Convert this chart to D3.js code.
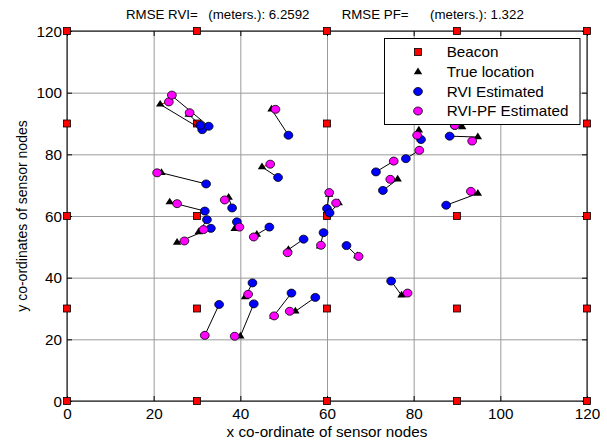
<!DOCTYPE html>
<html>
<head>
<meta charset="utf-8">
<script src="https://cdnjs.cloudflare.com/ajax/libs/d3/7.8.5/d3.min.js"></script>
<style>
  body { margin: 0; background: #fff; }
  text { font-family: "Liberation Sans", Arial, Helvetica, sans-serif; }
</style>
</head>
<body>
<script>
// ticks
const xTicks = [0, 20, 40, 60, 80, 100, 120];
const yTicks = [0, 20, 40, 60, 80, 100, 120];

// beacons sit on a 30 m grid
const beaconX = [0, 30, 60, 90, 120];
const beaconY = [0, 30, 60, 90, 120];

// true node positions
const trueX = [21.5, 24.2, 28.1, 47.2, 45.0, 21.8, 23.7, 37.3, 30.4, 25.4, 38.7, 43.8, 51.1, 58.4, 41.1,
               31.8, 40.0, 47.6, 52.7, 60.5, 62.7, 67.0, 75.4, 76.3, 81.3, 81.2, 91.2, 94.8, 94.8, 77.2];
const trueY = [96.2, 99.0, 92.9, 94.6, 75.9, 74.0, 64.5, 66.0, 54.8, 51.4, 55.9, 54.0, 49.1, 50.2, 33.7,
               21.3, 21.0, 27.4, 29.1, 67.0, 64.2, 47.0, 77.8, 71.9, 81.3, 87.8, 88.9, 85.6, 67.3, 34.3];

// RVI estimates
const rviX = [31.2, 32.7, 30.8, 51.1, 48.7, 32.1, 31.8, 38.1, 32.3, 33.2, 39.2, 46.7, 54.6, 59.2, 42.8,
              35.1, 43.1, 51.8, 57.3, 60.0, 60.6, 64.5, 71.3, 72.9, 78.2, 81.7, 89.5, 88.3, 87.5, 74.8];
const rviY = [88.0, 89.1, 89.4, 86.2, 72.5, 70.4, 61.6, 62.6, 58.8, 56.0, 58.1, 56.4, 52.5, 54.6, 38.3,
              31.3, 31.5, 35.0, 33.6, 62.4, 61.0, 50.4, 74.3, 68.3, 78.6, 84.8, 89.4, 85.9, 63.5, 38.9];

// RVI-PF estimates
const pfX = [23.5, 24.2, 28.3, 48.1, 46.9, 20.8, 25.4, 36.4, 31.5, 27.1, 39.8, 43.1, 50.9, 58.6, 41.8,
             31.8, 38.7, 47.8, 51.4, 60.5, 62.1, 67.3, 75.4, 74.6, 81.3, 80.8, 89.5, 93.5, 93.2, 78.6];
const pfY = [97.0, 99.2, 93.5, 94.6, 76.8, 74.0, 64.0, 65.2, 55.6, 51.9, 56.4, 53.2, 48.1, 50.5, 34.6,
             21.3, 21.0, 27.6, 29.1, 67.6, 64.2, 46.9, 77.8, 71.9, 81.3, 86.2, 89.4, 84.3, 68.0, 35.0];

const legendNames = ['Beacon', 'True location', 'RVI Estimated', 'RVI-PF Estimated'];
const rmseRVI = 6.2592;
const rmsePF = 1.322;

const width = 607;
const height = 444;
const plotLeft = 67, plotRight = 587, plotTop = 31, plotBottom = 401;
const SX = 1.09; // the picture is a bit wider than tall

const svg = d3.select('body').append('svg')
  .attr('width', width)
  .attr('height', height);

const x = d3.scaleLinear().domain([0, 120]).range([plotLeft, plotRight]);
const y = d3.scaleLinear().domain([0, 120]).range([plotBottom, plotTop]);

// grid
const grid = svg.append('g').attr('class', 'grid');
grid.append('g')
  .attr('transform', `translate(0,${plotBottom})`)
  .call(d3.axisBottom(x).tickValues(xTicks).tickSize(-(plotBottom - plotTop)).tickFormat(''));
grid.append('g')
  .attr('transform', `translate(${plotLeft},0)`)
  .call(d3.axisLeft(y).tickValues(yTicks).tickSize(-(plotRight - plotLeft)).tickFormat(''));
grid.selectAll('.domain').remove();
grid.selectAll('line').attr('stroke', '#9a9a9a').attr('stroke-width', 1);

// axes, ticks inside on all four sides
const axB = svg.append('g').attr('class', 'axis').attr('transform', `translate(0,${plotBottom})`)
  .call(d3.axisBottom(x).tickValues(xTicks).tickSize(-5).tickSizeOuter(0));
const axL = svg.append('g').attr('class', 'axis').attr('transform', `translate(${plotLeft},0)`)
  .call(d3.axisLeft(y).tickValues(yTicks).tickSize(-5).tickSizeOuter(0).tickPadding(5));
svg.append('g').attr('class', 'axis').attr('transform', `translate(0,${plotTop})`)
  .call(d3.axisTop(x).tickValues(xTicks).tickSize(-5).tickSizeOuter(0).tickFormat(''));
svg.append('g').attr('class', 'axis').attr('transform', `translate(${plotRight},0)`)
  .call(d3.axisRight(y).tickValues(yTicks).tickSize(-5).tickSizeOuter(0).tickFormat(''));

svg.selectAll('.axis .domain').remove();
svg.selectAll('.axis .tick line').attr('stroke', '#000');

axB.selectAll('text')
  .attr('y', 18).attr('dy', 0)
  .attr('font-size', 14)
  .attr('fill', '#000')
  .attr('font-family', '"Liberation Sans", Arial, sans-serif')
  .attr('transform', `scale(${SX},1)`);
axL.selectAll('text')
  .attr('x', -5 / SX).attr('dy', '0.36em')
  .attr('font-size', 14)
  .attr('fill', '#000')
  .attr('font-family', '"Liberation Sans", Arial, sans-serif')
  .attr('transform', `scale(${SX},1)`);

// axes box
svg.append('rect')
  .attr('x', plotLeft).attr('y', plotTop)
  .attr('width', plotRight - plotLeft).attr('height', plotBottom - plotTop)
  .attr('fill', 'none').attr('stroke', '#000').attr('stroke-width', 1);

// labels
svg.append('text')
  .attr('transform', `translate(${(plotLeft + plotRight) / 2},437) scale(${SX},1)`)
  .attr('text-anchor', 'middle')
  .attr('font-size', 14)
  .text('x co-ordinate of sensor nodes');

svg.append('text')
  .attr('transform', `translate(27,${(plotTop + plotBottom) / 2}) rotate(-90)`)
  .attr('text-anchor', 'middle')
  .attr('font-size', 14)
  .text('y co-ordinates of sensor nodes');

// title, pieces spaced as in the figure
const title = svg.append('text')
  .attr('transform', `translate(0,18.5) scale(${SX},1)`)
  .attr('font-size', 12.2);
const titleParts = [
  ['RMSE RVI=', 126],
  [`(meters.): ${rmseRVI}`, 208.3],
  ['RMSE PF=', 341.7],
  [`(meters.): ${rmsePF}`, 430]
];
titleParts.forEach(([t, px]) => {
  title.append('tspan').attr('x', px / SX).text(t);
});

// beacons
const beacons = d3.cross(beaconX, beaconY);
const nodes = trueX.map((d, i) => ({
  tx: trueX[i], ty: trueY[i],
  bx: rviX[i], by: rviY[i],
  mx: pfX[i], my: pfY[i]
}));

const marks = svg.append('g').attr('class', 'marks');

const sq = 7;
marks.selectAll('.beacon')
  .data(beacons)
  .enter()
  .append('rect')
  .attr('class', 'beacon')
  .attr('x', d => x(d[0]) - sq / 2)
  .attr('y', d => y(d[1]) - sq / 2)
  .attr('width', sq).attr('height', sq)
  .attr('fill', '#ff0000').attr('stroke', '#000').attr('stroke-width', 0.8);

// error lines
marks.selectAll('.errRVI')
  .data(nodes)
  .enter()
  .append('line')
  .attr('x1', d => x(d.tx)).attr('y1', d => y(d.ty))
  .attr('x2', d => x(d.bx)).attr('y2', d => y(d.by))
  .attr('stroke', '#000').attr('stroke-width', 1);

marks.selectAll('.errPF')
  .data(nodes)
  .enter()
  .append('line')
  .attr('x1', d => x(d.tx)).attr('y1', d => y(d.ty))
  .attr('x2', d => x(d.mx)).attr('y2', d => y(d.my))
  .attr('stroke', '#ff0000').attr('stroke-width', 1);

const tri = d3.symbol().type(d3.symbolTriangle).size(26);

marks.selectAll('.true')
  .data(nodes)
  .enter()
  .append('path')
  .attr('d', tri)
  .attr('transform', d => `translate(${x(d.tx)},${y(d.ty)}) scale(${SX},1)`)
  .attr('fill', '#000');

marks.selectAll('.rvi')
  .data(nodes)
  .enter()
  .append('ellipse')
  .attr('cx', d => x(d.bx)).attr('cy', d => y(d.by))
  .attr('rx', 4.4).attr('ry', 4.0)
  .attr('fill', '#0000ff').attr('stroke', '#000').attr('stroke-width', 0.8);

marks.selectAll('.pf')
  .data(nodes)
  .enter()
  .append('ellipse')
  .attr('cx', d => x(d.mx)).attr('cy', d => y(d.my))
  .attr('rx', 4.4).attr('ry', 4.0)
  .attr('fill', '#ff00ff').attr('stroke', '#000').attr('stroke-width', 0.8);

// legend
const legend = svg.append('g').attr('class', 'legend');
legend.append('rect')
  .attr('x', 384.5).attr('y', 38.5)
  .attr('width', 195.5).attr('height', 86)
  .attr('fill', '#fff').attr('stroke', '#000').attr('stroke-width', 1);

const rowY = [52, 72, 91.5, 111];
const mkX = 418;
legend.append('rect')
  .attr('x', mkX - sq / 2).attr('y', rowY[0] - sq / 2)
  .attr('width', sq).attr('height', sq)
  .attr('fill', '#ff0000').attr('stroke', '#000').attr('stroke-width', 0.8);
legend.append('path')
  .attr('d', tri)
  .attr('transform', `translate(${mkX},${rowY[1]}) scale(${SX},1)`)
  .attr('fill', '#000');
legend.append('ellipse')
  .attr('cx', mkX).attr('cy', rowY[2]).attr('rx', 4.4).attr('ry', 4.0)
  .attr('fill', '#0000ff').attr('stroke', '#000').attr('stroke-width', 0.8);
legend.append('ellipse')
  .attr('cx', mkX).attr('cy', rowY[3]).attr('rx', 4.4).attr('ry', 4.0)
  .attr('fill', '#ff00ff').attr('stroke', '#000').attr('stroke-width', 0.8);

legendNames.forEach((name, i) => {
  legend.append('text')
    .attr('transform', `translate(446.7,${rowY[i] + 5}) scale(${SX},1)`)
    .attr('font-size', 14)
    .text(name);
});
</script>
</body>
</html>
